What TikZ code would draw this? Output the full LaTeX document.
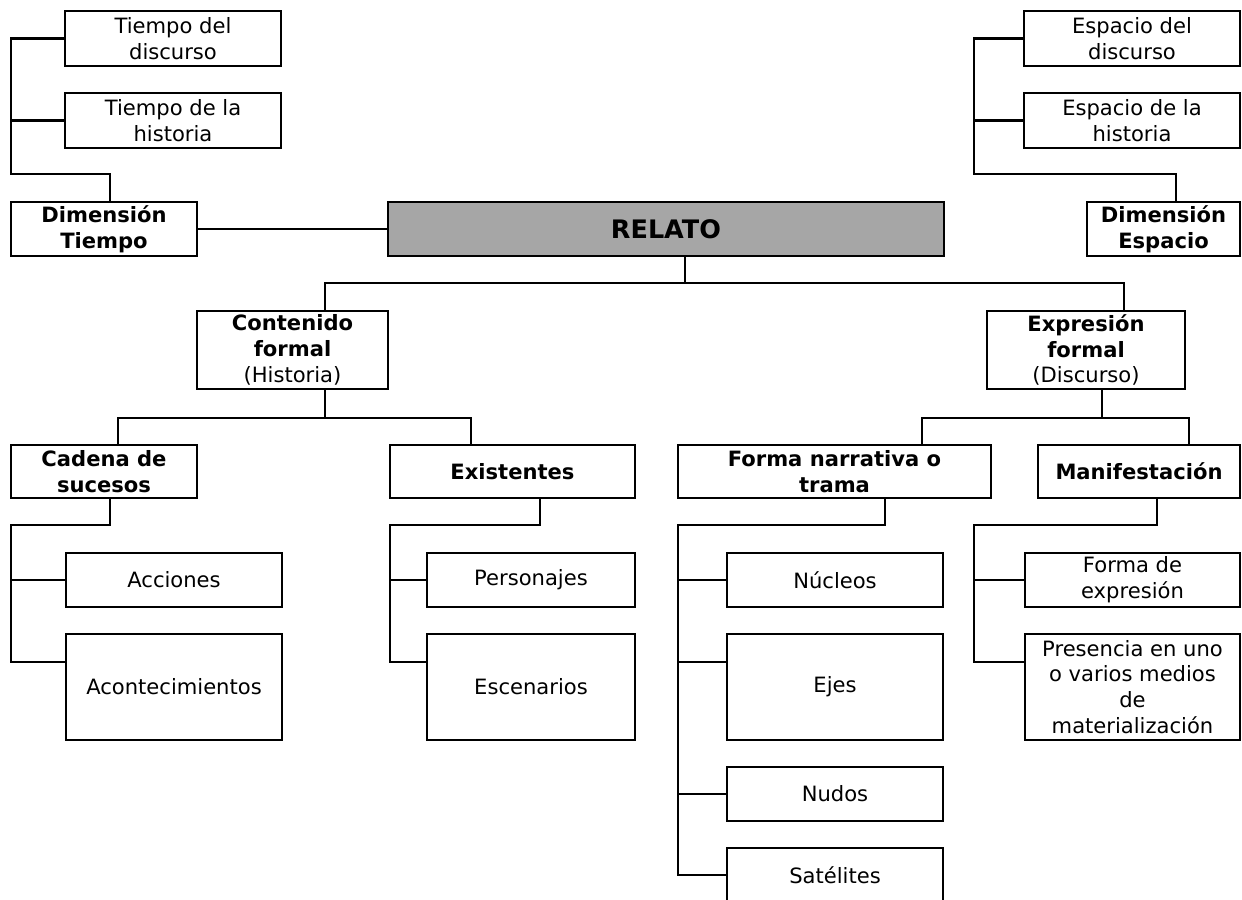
\documentclass[tikz,border=0pt]{standalone}
\usepackage{fontspec}
\setmainfont{DejaVu Sans}
\usepackage{xcolor}
\usepackage{tikz}
\usetikzlibrary{positioning}
\definecolor{gris}{RGB}{166,166,166}
\tikzstyle{caja} = [rectangle, draw, line width=1.2pt, inner sep=0pt, align=center, font=\fontsize{12}{14.7}\selectfont]
\tikzstyle{enlace} = [draw, line width=1.2pt]
\newcommand{\negr}[1]{\textbf{#1}}

\begin{document}
\begin{tikzpicture}[x=0.02cm, y=-0.02cm]

\path [use as bounding box] (0,0) rectangle (1242,900);
\clip (0,0) rectangle (1242,900);

%% dimensiones
\node [caja, minimum width=4.32cm, minimum height=1.10cm] at (173,38.5) (tdisc) {Tiempo del\\discurso};
\node [caja, minimum width=4.32cm, minimum height=1.10cm] at (173,120.5) (thist) {Tiempo de la\\historia};
\node [caja, minimum width=3.72cm, minimum height=1.08cm] at (104,229) (dtiempo) {\negr{Dimensión}\\\negr{Tiempo}};

\node [caja, minimum width=4.32cm, minimum height=1.10cm] at (1132,38.5) (edisc) {Espacio del\\discurso};
\node [caja, minimum width=4.32cm, minimum height=1.10cm] at (1132,120.5) (ehist) {Espacio de la\\historia};
\node [caja, minimum width=3.06cm, minimum height=1.08cm] at (1163.5,229) (despacio) {\negr{Dimensión}\\\negr{Espacio}};

\node [caja, fill=gris, minimum width=11.12cm, minimum height=1.08cm, font=\fontsize{14.5}{16}\selectfont\bfseries] at (666,229) (relato) {RELATO};

\coordinate (tl) at (11,174);
\coordinate (tb) at (110,174);
\coordinate (el) at (974,174);
\coordinate (eb) at (1176,174);

\path [enlace] (tdisc.west) -| (tl) -- (tb) -- (dtiempo.north -| tb);
\path [enlace] (thist.west) -- (thist.west -| tl);
\path [enlace] (edisc.west) -| (el) -- (eb) -- (despacio.north -| eb);
\path [enlace] (ehist.west) -- (ehist.west -| el);
\path [enlace] (dtiempo) -- (relato);

%% contenido y expresion
\node [caja, minimum width=3.82cm, minimum height=1.56cm] at (292.5,350) (contenido) {\negr{Contenido}\\\negr{formal}\\(Historia)};
\node [caja, minimum width=3.96cm, minimum height=1.56cm] at (1086,350) (expresion) {\negr{Expresión}\\\negr{formal}\\(Discurso)};

\coordinate (r0) at (685,283);
\coordinate (r1) at (325,283);
\coordinate (r2) at (1124,283);

\path [enlace] (relato.south -| r0) -- (r0);
\path [enlace] (contenido.north -| r1) -- (r1) -- (r2) -- (expresion.north -| r2);

\node [caja, minimum width=3.72cm, minimum height=1.06cm] at (104,471.5) (cadena) {\negr{Cadena de}\\\negr{sucesos}};
\node [caja, minimum width=4.90cm, minimum height=1.06cm] at (512.5,471.5) (existentes) {\negr{Existentes}};
\node [caja, minimum width=6.26cm, minimum height=1.06cm] at (834.5,471.5) (forma) {\negr{Forma narrativa o}\\\negr{trama}};
\node [caja, minimum width=4.04cm, minimum height=1.06cm] at (1139,471.5) (manif) {\negr{Manifestación}};

\coordinate (c0) at (325,418);
\coordinate (c1) at (118,418);
\coordinate (c2) at (471,418);
\coordinate (x0) at (1102,418);
\coordinate (x1) at (922,418);
\coordinate (x2) at (1189,418);

\path [enlace] (contenido.south -| c0) -- (c0);
\path [enlace] (cadena.north -| c1) -- (c1) -- (c2) -- (existentes.north -| c2);
\path [enlace] (expresion.south -| x0) -- (x0);
\path [enlace] (forma.north -| x1) -- (x1) -- (x2) -- (manif.north -| x2);

%% hojas
\node [caja, minimum width=4.32cm, minimum height=1.08cm] at (174,580) (acciones) {Acciones};
\node [caja, minimum width=4.32cm, minimum height=2.12cm] at (174,687) (acontec) {Acontecimientos};
\node [caja, minimum width=4.16cm, minimum height=1.08cm] at (531,580) (personajes) {Personajes};
\node [caja, minimum width=4.16cm, minimum height=2.12cm] at (531,687) (escenarios) {Escenarios};
\node [caja, minimum width=4.32cm, minimum height=1.08cm] at (835,580) (nucleos) {Núcleos};
\node [caja, minimum width=4.32cm, minimum height=2.12cm] at (835,687) (ejes) {Ejes};
\node [caja, minimum width=4.32cm, minimum height=1.08cm] at (835,794) (nudos) {Nudos};
\node [caja, minimum width=4.32cm, minimum height=1.08cm] at (835,875) (satelites) {Satélites};
\node [caja, minimum width=4.30cm, minimum height=1.08cm] at (1132.5,580) (formaexp) {Forma de\\expresión};
\node [caja, minimum width=4.30cm, minimum height=2.12cm] at (1132.5,687) (presencia) {Presencia en uno\\o varios medios\\de\\materialización};

\coordinate (a0) at (110,525);
\coordinate (a1) at (11,525);
\coordinate (a2) at (11,662);
\coordinate (s0) at (540,525);
\coordinate (s1) at (390,525);
\coordinate (s2) at (390,662);
\coordinate (f0) at (885,525);
\coordinate (f1) at (678,525);
\coordinate (f2) at (678,875);
\coordinate (m0) at (1157,525);
\coordinate (m1) at (974,525);
\coordinate (m2) at (974,662);

\path [enlace] (cadena.south -| a0) -- (a0) -- (a1) -- (a2) -- (acontec.west |- a2);
\path [enlace] (acciones.west) -- (acciones.west -| a1);
\path [enlace] (existentes.south -| s0) -- (s0) -- (s1) -- (s2) -- (escenarios.west |- s2);
\path [enlace] (personajes.west) -- (personajes.west -| s1);
\path [enlace] (forma.south -| f0) -- (f0) -- (f1) -- (f2) -- (satelites.west);
\path [enlace] (nucleos.west) -- (nucleos.west -| f1);
\path [enlace] (ejes.west |- a2) -- (a2 -| f1);
\path [enlace] (nudos.west) -- (nudos.west -| f1);
\path [enlace] (manif.south -| m0) -- (m0) -- (m1) -- (m2) -- (presencia.west |- m2);
\path [enlace] (formaexp.west) -- (formaexp.west -| m1);

\end{tikzpicture}
\end{document}
